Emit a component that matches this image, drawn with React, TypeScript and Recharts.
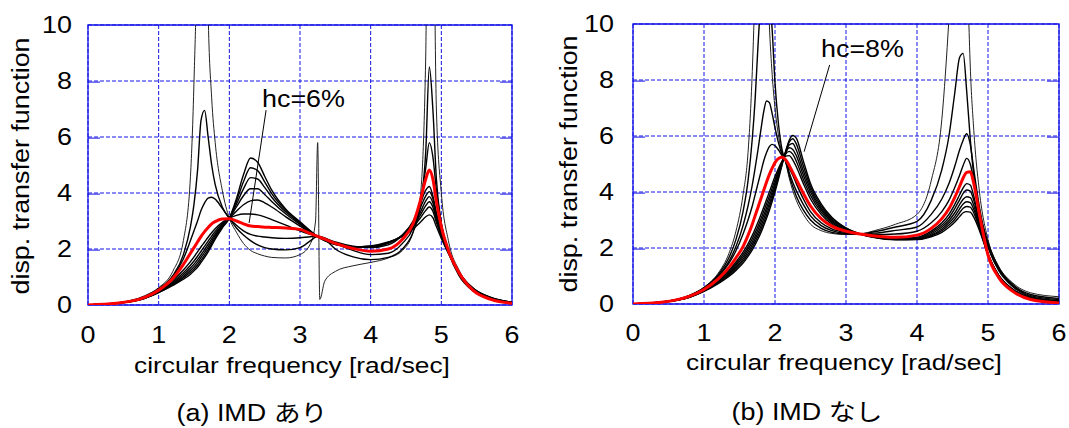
import { LineChart, Line, XAxis, YAxis, CartesianGrid, ReferenceLine, ReferenceArea } from 'recharts';

// Fonts: the original text is an Arial-like face, a bit stretched sideways
const FONT = "'Liberation Sans', Arial, 'Noto Sans CJK JP', sans-serif";
const SX = 1.17;
const GRID = '#1414e6';

// ---- (a) IMD あり ----
const freqA = [0, 0.4, 0.8, 1.0, 1.2, 1.35, 1.45, 1.5, 1.55, 1.6, 1.65, 1.7, 1.75, 1.8, 1.9, 2.0, 2.1, 2.2, 2.3, 2.4, 2.5, 2.6, 2.8, 3.0, 3.15, 3.22, 3.25, 3.28, 3.35, 3.5, 3.75, 4.0, 4.25, 4.45, 4.6, 4.7, 4.78, 4.83, 4.88, 4.93, 5.0, 5.1, 5.25, 5.45, 5.7, 6.0];
const a_h0 = [0, 0.07, 0.33, 0.62, 1.2, 2.3, 4.6, 8, 14, 30, 20, 10.5, 7.4, 5.8, 4.1, 3.1, 2.6, 2.2, 1.95, 1.83, 1.75, 1.7, 1.68, 1.8, 2.2, 3.0, 5.8, 0.2, 0.85, 1.2, 1.4, 1.52, 1.68, 1.95, 2.6, 3.8, 9.0, 30, 18, 7, 4.0, 2.3, 1.25, 0.62, 0.28, 0.1];
const a_h1 = [0, 0.07, 0.3, 0.58, 1.05, 1.8, 2.8, 3.6, 4.8, 6.6, 6.95, 6.0, 5.0, 4.3, 3.5, 3.1, 2.75, 2.5, 2.3, 2.15, 2.05, 2.0, 1.97, 2.05, 2.3, 2.42, 2.45, 2.45, 2.35, 2.0, 1.72, 1.62, 1.7, 2.0, 2.6, 3.5, 5.5, 8.5, 7.0, 4.5, 2.9, 1.9, 1.05, 0.5, 0.2, 0.06];
const a_h2 = [0, 0.06, 0.28, 0.55, 1.0, 1.65, 2.3, 2.65, 3.0, 3.38, 3.65, 3.82, 3.85, 3.78, 3.45, 3.1, 2.85, 2.65, 2.52, 2.46, 2.43, 2.4, 2.38, 2.4, 2.44, 2.45, 2.45, 2.44, 2.4, 2.2, 1.95, 1.8, 1.85, 2.2, 2.75, 3.6, 4.9, 5.8, 5.3, 4.1, 2.9, 1.95, 1.1, 0.52, 0.2, 0.06];
const a_h4 = [0, 0.06, 0.26, 0.5, 0.88, 1.25, 1.55, 1.72, 1.9, 2.08, 2.25, 2.42, 2.58, 2.72, 2.95, 3.1, 3.2, 3.25, 3.25, 3.22, 3.15, 3.05, 2.85, 2.65, 2.52, 2.47, 2.45, 2.42, 2.38, 2.25, 2.1, 2.05, 2.15, 2.5, 3.0, 3.6, 4.1, 4.23, 3.9, 3.3, 2.6, 1.9, 1.15, 0.55, 0.22, 0.07];
const a_h5 = [0, 0.06, 0.25, 0.48, 0.82, 1.15, 1.42, 1.57, 1.74, 1.92, 2.1, 2.28, 2.46, 2.63, 2.9, 3.1, 3.35, 3.58, 3.72, 3.75, 3.65, 3.5, 3.15, 2.82, 2.58, 2.49, 2.45, 2.41, 2.33, 2.2, 2.08, 2.07, 2.2, 2.5, 2.95, 3.45, 3.9, 4.05, 3.8, 3.25, 2.6, 1.9, 1.15, 0.56, 0.23, 0.08];
const a_h6 = [0, 0.06, 0.25, 0.47, 0.78, 1.08, 1.32, 1.46, 1.62, 1.8, 1.98, 2.17, 2.36, 2.55, 2.85, 3.1, 3.5, 3.9, 4.15, 4.15, 3.95, 3.7, 3.25, 2.88, 2.6, 2.5, 2.45, 2.41, 2.32, 2.19, 2.08, 2.08, 2.22, 2.5, 2.9, 3.3, 3.72, 3.87, 3.65, 3.15, 2.55, 1.9, 1.15, 0.57, 0.24, 0.08];
const a_h7 = [0, 0.06, 0.24, 0.46, 0.75, 1.02, 1.24, 1.37, 1.52, 1.7, 1.88, 2.07, 2.27, 2.48, 2.82, 3.1, 3.6, 4.15, 4.55, 4.5, 4.2, 3.85, 3.32, 2.92, 2.62, 2.5, 2.45, 2.4, 2.31, 2.18, 2.08, 2.09, 2.23, 2.48, 2.85, 3.2, 3.55, 3.69, 3.5, 3.05, 2.5, 1.88, 1.15, 0.58, 0.25, 0.09];
const a_h8 = [0, 0.06, 0.24, 0.45, 0.72, 0.97, 1.17, 1.29, 1.43, 1.6, 1.78, 1.98, 2.19, 2.41, 2.78, 3.1, 3.7, 4.4, 4.9, 4.8, 4.4, 3.98, 3.38, 2.95, 2.63, 2.5, 2.45, 2.4, 2.3, 2.17, 2.08, 2.1, 2.24, 2.47, 2.8, 3.1, 3.38, 3.5, 3.35, 2.95, 2.45, 1.86, 1.15, 0.59, 0.26, 0.1];
const a_h9 = [0, 0.06, 0.23, 0.44, 0.7, 0.92, 1.1, 1.22, 1.35, 1.52, 1.7, 1.9, 2.12, 2.35, 2.75, 3.1, 3.8, 4.65, 5.25, 5.1, 4.6, 4.1, 3.42, 2.97, 2.64, 2.5, 2.45, 2.4, 2.3, 2.16, 2.08, 2.11, 2.25, 2.45, 2.72, 2.95, 3.15, 3.22, 3.12, 2.8, 2.38, 1.84, 1.15, 0.6, 0.27, 0.1];
const a_hc6 = [0, 0.06, 0.27, 0.53, 0.95, 1.45, 1.85, 2.05, 2.25, 2.45, 2.62, 2.77, 2.9, 2.98, 3.07, 3.08, 3.0, 2.9, 2.82, 2.8, 2.78, 2.77, 2.75, 2.7, 2.55, 2.48, 2.45, 2.42, 2.35, 2.2, 2.02, 1.92, 2.0, 2.35, 2.9, 3.7, 4.5, 4.82, 4.5, 3.7, 2.8, 1.95, 1.15, 0.52, 0.2, 0.06];

// ---- (b) IMD なし ----
const freqB = [0, 0.4, 0.8, 1.0, 1.2, 1.35, 1.45, 1.55, 1.62, 1.68, 1.72, 1.76, 1.8, 1.84, 1.88, 1.92, 1.96, 2.0, 2.05, 2.1, 2.15, 2.2, 2.25, 2.3, 2.4, 2.5, 2.65, 2.8, 3.0, 3.2, 3.4, 3.7, 4.0, 4.2, 4.35, 4.45, 4.53, 4.6, 4.65, 4.7, 4.75, 4.8, 4.88, 5.0, 5.15, 5.35, 5.6, 6.0];
const b_h0 = [0, 0.07, 0.32, 0.6, 1.1, 1.8, 2.6, 3.9, 5.4, 8.3, 11.5, 16, 22, 18, 13, 10.0, 8.2, 7.0, 6.0, 5.4, 5.05, 4.5, 4.05, 3.7, 3.2, 2.85, 2.62, 2.52, 2.48, 2.5, 2.62, 2.85, 3.2, 4.4, 6.6, 10.2, 14, 20, 19, 13, 8.5, 6.2, 4.0, 2.3, 1.35, 0.75, 0.4, 0.26];
const b_h1 = [0, 0.07, 0.31, 0.58, 1.05, 1.65, 2.3, 3.3, 4.4, 5.9, 7.3, 9.2, 10.8, 11.5, 11.6, 11.0, 9.8, 7.9, 6.4, 5.5, 5.1, 4.6, 4.2, 3.85, 3.35, 3.0, 2.7, 2.56, 2.5, 2.5, 2.58, 2.75, 2.95, 3.7, 4.8, 6.0, 7.5, 8.8, 8.95, 7.6, 5.9, 4.6, 3.3, 2.2, 1.3, 0.7, 0.34, 0.2];
const b_h2 = [0, 0.07, 0.3, 0.56, 1.0, 1.52, 2.05, 2.8, 3.5, 4.25, 4.85, 5.5, 6.2, 6.85, 7.25, 7.2, 6.8, 6.3, 5.75, 5.35, 5.12, 4.7, 4.35, 4.05, 3.55, 3.15, 2.8, 2.62, 2.52, 2.5, 2.53, 2.63, 2.75, 3.2, 3.75, 4.3, 4.9, 5.5, 5.85, 6.08, 5.7, 4.8, 3.45, 2.1, 1.25, 0.66, 0.3, 0.16];
const b_h3 = [0, 0.07, 0.29, 0.55, 0.97, 1.45, 1.9, 2.5, 3.0, 3.5, 3.9, 4.3, 4.7, 5.1, 5.4, 5.62, 5.7, 5.65, 5.5, 5.3, 5.15, 4.85, 4.6, 4.3, 3.75, 3.3, 2.9, 2.68, 2.55, 2.5, 2.48, 2.5, 2.6, 2.9, 3.3, 3.7, 4.15, 4.6, 4.95, 5.2, 5.0, 4.4, 3.3, 2.05, 1.2, 0.62, 0.26, 0.12];
const b_h5 = [0, 0.06, 0.27, 0.5, 0.85, 1.2, 1.5, 1.85, 2.15, 2.45, 2.68, 2.92, 3.18, 3.45, 3.72, 4.0, 4.28, 4.55, 4.85, 5.1, 5.28, 5.3, 5.15, 4.9, 4.3, 3.75, 3.2, 2.85, 2.6, 2.5, 2.42, 2.35, 2.38, 2.6, 2.9, 3.2, 3.55, 3.9, 4.15, 4.3, 4.25, 3.85, 2.9, 1.75, 0.98, 0.48, 0.18, 0.05];
const b_h6 = [0, 0.06, 0.26, 0.49, 0.82, 1.15, 1.43, 1.76, 2.05, 2.33, 2.55, 2.78, 3.03, 3.3, 3.57, 3.85, 4.14, 4.43, 4.78, 5.08, 5.35, 5.45, 5.35, 5.1, 4.45, 3.88, 3.28, 2.9, 2.62, 2.5, 2.41, 2.33, 2.35, 2.55, 2.82, 3.08, 3.4, 3.72, 3.95, 4.07, 4.03, 3.7, 2.85, 1.75, 0.99, 0.49, 0.19, 0.06];
const b_h7 = [0, 0.06, 0.26, 0.48, 0.79, 1.1, 1.37, 1.68, 1.96, 2.22, 2.43, 2.65, 2.9, 3.16, 3.43, 3.71, 4.0, 4.32, 4.7, 5.05, 5.4, 5.58, 5.52, 5.3, 4.6, 4.0, 3.35, 2.95, 2.65, 2.5, 2.4, 2.32, 2.33, 2.5, 2.75, 2.98, 3.25, 3.55, 3.74, 3.83, 3.8, 3.52, 2.8, 1.76, 1.0, 0.5, 0.2, 0.07];
const b_h8 = [0, 0.06, 0.25, 0.47, 0.77, 1.06, 1.31, 1.6, 1.87, 2.12, 2.32, 2.53, 2.77, 3.03, 3.3, 3.58, 3.88, 4.2, 4.62, 5.02, 5.42, 5.68, 5.73, 5.5, 4.75, 4.1, 3.42, 3.0, 2.68, 2.5, 2.39, 2.31, 2.32, 2.46, 2.68, 2.9, 3.12, 3.4, 3.57, 3.65, 3.62, 3.38, 2.75, 1.77, 1.01, 0.51, 0.21, 0.08];
const b_h9 = [0, 0.06, 0.25, 0.46, 0.75, 1.02, 1.26, 1.53, 1.78, 2.02, 2.22, 2.42, 2.65, 2.9, 3.17, 3.46, 3.77, 4.1, 4.55, 5.0, 5.45, 5.78, 5.9, 5.72, 4.92, 4.2, 3.5, 3.05, 2.7, 2.5, 2.38, 2.3, 2.31, 2.43, 2.62, 2.82, 3.02, 3.26, 3.42, 3.48, 3.46, 3.25, 2.7, 1.78, 1.02, 0.52, 0.22, 0.09];
const b_h10 = [0, 0.06, 0.24, 0.45, 0.73, 0.98, 1.2, 1.46, 1.7, 1.93, 2.12, 2.32, 2.54, 2.79, 3.05, 3.34, 3.66, 4.0, 4.47, 4.97, 5.45, 5.85, 6.02, 5.92, 5.1, 4.3, 3.58, 3.1, 2.72, 2.5, 2.37, 2.29, 2.3, 2.4, 2.56, 2.74, 2.92, 3.12, 3.26, 3.3, 3.28, 3.1, 2.62, 1.78, 1.03, 0.53, 0.23, 0.1];
const b_hc8 = [0, 0.06, 0.28, 0.52, 0.9, 1.3, 1.65, 2.05, 2.45, 2.85, 3.15, 3.45, 3.75, 4.05, 4.35, 4.62, 4.85, 5.05, 5.2, 5.24, 5.15, 4.95, 4.7, 4.45, 3.95, 3.5, 3.05, 2.78, 2.6, 2.5, 2.43, 2.38, 2.46, 2.7, 3.05, 3.4, 3.8, 4.2, 4.5, 4.7, 4.72, 4.3, 3.2, 1.75, 0.95, 0.45, 0.16, 0.04];

const xTicks = [0, 1, 2, 3, 4, 5, 6];
const yTicks = [0, 2, 4, 6, 8, 10];
const innerTicks = [2, 4, 6, 8];

const XTick = (props: any) => {
    const { x, y, payload } = props;
    return (
        <g transform={`translate(${x},${y})`}>
            <text transform={`scale(${SX},1)`} textAnchor="middle" dy="0.71em" fontSize={23} fontFamily={FONT} fill="#000">
                {payload.value}
            </text>
        </g>
    );
};

const YTick = (props: any) => {
    const { x, y, payload } = props;
    return (
        <g transform={`translate(${x},${y})`}>
            <text transform={`scale(${SX},1)`} textAnchor="end" dy="0.355em" fontSize={23} fontFamily={FONT} fill="#000">
                {payload.value}
            </text>
        </g>
    );
};

type PanelProps = {
    freq: number[];
    black: number[][];
    thin: number[];
    red: number[];
    width: number;
    height: number;
    margin: { top: number; right: number; left: number; bottom: number };
    yTickGap: number;
    xTickGap: number;
    pointer: { x: number; y: number }[];
};

const Panel = ({ freq, black, thin, red, width, height, margin, yTickGap, xTickGap, pointer }: PanelProps) => {
    // build the table recharts wants: one row per frequency
    const data = freq.map((f, i) => {
        const row: any = { f, thin: thin[i], red: red[i] };
        black.forEach((s, k) => (row['c' + k] = s[i]));
        return row;
    });

    return (
        <LineChart width={width} height={height} data={data} margin={margin}>
            <CartesianGrid stroke={GRID} strokeDasharray="4 2" strokeWidth={1} />
            <ReferenceArea x1={0} x2={6} y1={0} y2={10} fill="none" stroke={GRID} strokeWidth={1.3} ifOverflow="visible" />
            {/* short solid ticks inside the frame, both sides */}
            {innerTicks.map((v) => (
                <ReferenceLine key={'l' + v} segment={[{ x: 0, y: v - 0.04 }, { x: 0.17, y: v - 0.04 }]} stroke={GRID} strokeWidth={1} />
            ))}
            {innerTicks.map((v) => (
                <ReferenceLine key={'r' + v} segment={[{ x: 5.83, y: v - 0.04 }, { x: 6, y: v - 0.04 }]} stroke={GRID} strokeWidth={1} />
            ))}
            <XAxis dataKey="f" type="number" domain={[0, 6]} ticks={xTicks} axisLine={false} tickLine={false}
                tickSize={0} tickMargin={xTickGap} height={45} tick={<XTick />} interval={0} />
            <YAxis type="number" domain={[0, 10]} ticks={yTicks} allowDataOverflow axisLine={false} tickLine={false}
                tickSize={0} tickMargin={yTickGap} width={88} tick={<YTick />} interval={0} />
            <Line dataKey="thin" type="monotone" stroke="#222" strokeWidth={1} dot={false} activeDot={false} isAnimationActive={false} />
            {black.map((_, k) => (
                <Line key={k} dataKey={'c' + k} type="monotone" stroke="#000" strokeWidth={1.4} dot={false} activeDot={false} isAnimationActive={false} />
            ))}
            <Line dataKey="red" type="monotone" stroke="#ff0000" strokeWidth={3} dot={false} activeDot={false} isAnimationActive={false} />
            <ReferenceLine segment={pointer} stroke="#000" strokeWidth={1} ifOverflow="visible" />
        </LineChart>
    );
};

const txt = (s: string, x: number, y: number, anchor: string, rot = false, size = 23) => (
    <text
        transform={`translate(${x},${y})${rot ? ' rotate(-90)' : ''} scale(${SX},1)`}
        textAnchor={anchor as any}
        fontSize={size}
        fontFamily={FONT}
        fill="#000"
    >
        {s}
    </text>
);

const App = () => {
    return (
        <div style={{ position: 'absolute', left: 0, top: 0, width: 1069, height: 428, background: '#fff', overflow: 'hidden' }}>
            <div style={{ position: 'absolute', left: 0, top: 0 }}>
                <Panel
                    freq={freqA}
                    thin={a_h0}
                    black={[a_h1, a_h2, a_h4, a_h5, a_h6, a_h7, a_h8, a_h9]}
                    red={a_hc6}
                    width={540}
                    height={350}
                    margin={{ top: 25, right: 28, left: 0, bottom: 0 }}
                    yTickGap={16}
                    xTickGap={22}
                    pointer={[{ x: 2.52, y: 6.96 }, { x: 2.28, y: 2.93 }]}
                />
            </div>
            <div style={{ position: 'absolute', left: 545, top: 0 }}>
                <Panel
                    freq={freqB}
                    thin={b_h0}
                    black={[b_h1, b_h2, b_h3, b_h5, b_h6, b_h7, b_h8, b_h9, b_h10]}
                    red={b_hc8}
                    width={524}
                    height={349}
                    margin={{ top: 24, right: 10, left: 0, bottom: 0 }}
                    yTickGap={19}
                    xTickGap={21}
                    pointer={[{ x: 2.77, y: 8.54 }, { x: 2.41, y: 5.44 }]}
                />
            </div>
            <svg width={1069} height={428} style={{ position: 'absolute', left: 0, top: 0, pointerEvents: 'none' }}>
                {txt('disp. transfer function', 28.5, 166, 'middle', true)}
                {txt('disp. transfer function', 577, 164, 'middle', true)}
                {txt('circular frequency [rad/sec]', 292, 373, 'middle', false, 22.5)}
                {txt('circular frequency [rad/sec]', 844, 370, 'middle', false, 22.5)}
                {txt('(a) IMD あり', 252, 421, 'middle')}
                {txt('(b) IMD なし', 807, 420, 'middle')}
                {txt('hc=6%', 262, 107, 'start')}
                {txt('hc=8%', 821, 56.7, 'start')}
            </svg>
        </div>
    );
};

export default App;
